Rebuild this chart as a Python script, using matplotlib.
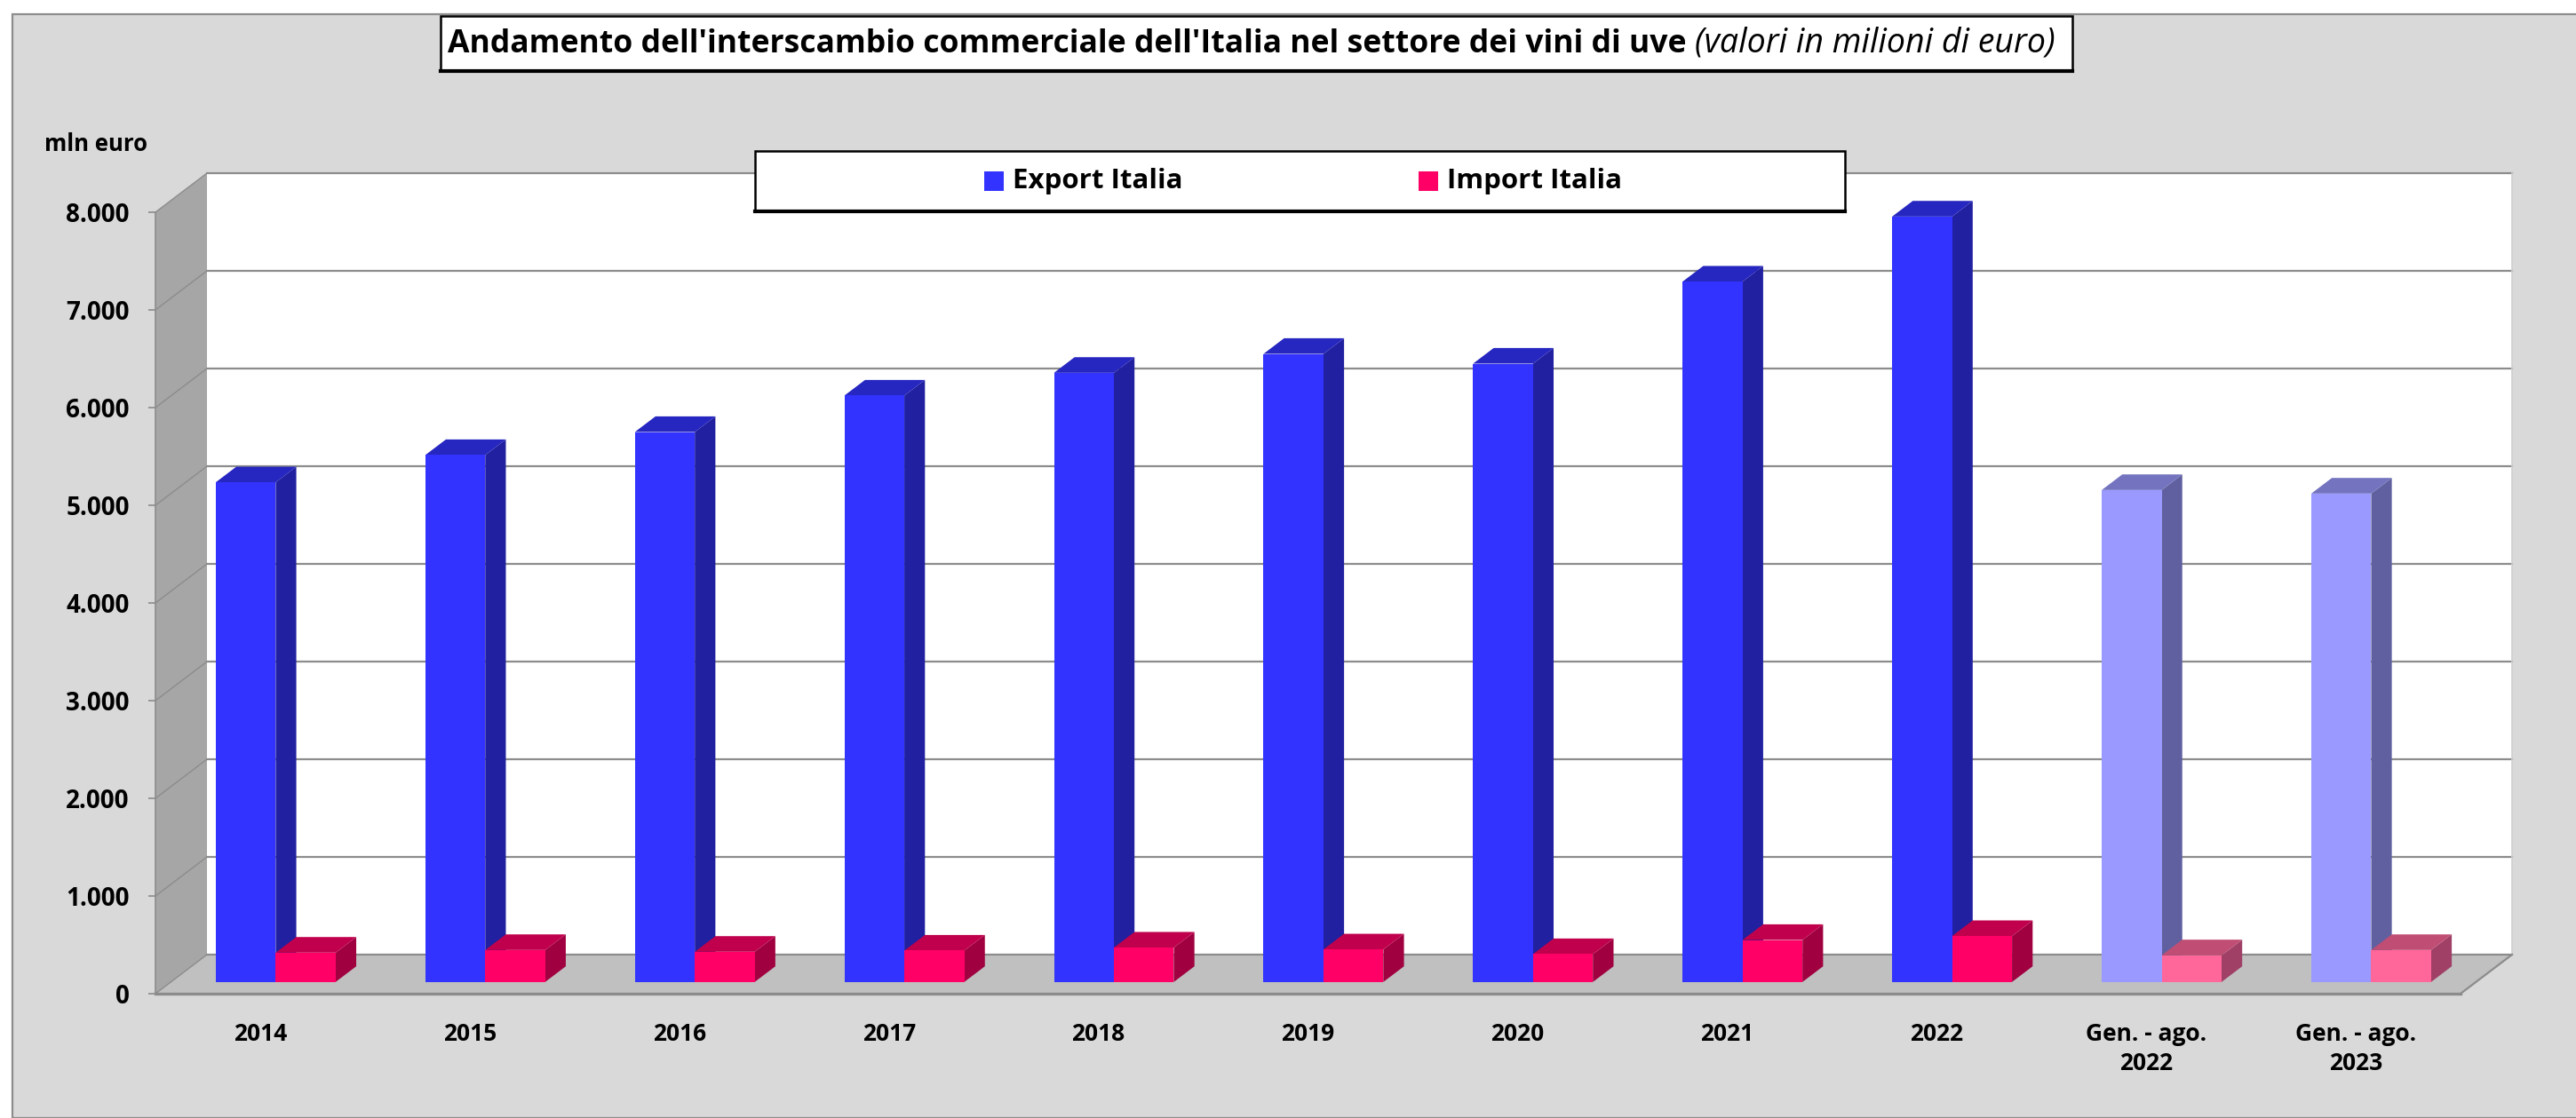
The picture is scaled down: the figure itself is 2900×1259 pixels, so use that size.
import numpy as np
import matplotlib
matplotlib.use("Agg")
import matplotlib.pyplot as plt
from matplotlib.patches import Polygon, Rectangle
from matplotlib.lines import Line2D
from matplotlib.text import Annotation

# --- data (milioni di euro) ---
categories = ["2014", "2015", "2016", "2017", "2018", "2019", "2020", "2021", "2022",
              "Gen. - ago.\n2022", "Gen. - ago.\n2023"]
export_italia = [5115, 5394, 5630, 6003, 6236, 6430, 6330, 7170, 7836, 5036, 5000]
import_italia = [300, 327, 309, 321, 352, 333, 285, 430, 470, 273, 327]
partial = [False] * 9 + [True, True]  # periodi gen-ago shown in lighter tones
yticks = list(range(0, 8001, 1000))

title_bold = "Andamento dell'interscambio commerciale dell'Italia nel settore dei vini di uve "
title_italic = "(valori in milioni di euro)"

plt.rcParams["font.family"] = ["Open Sans", "DejaVu Sans"]

W, H = 2900, 1259
fig = plt.figure(figsize=(W / 100, H / 100), dpi=100)
fig.patch.set_facecolor("white")


def fx(px):
    return px / W


def fy(py):
    return 1 - py / H


# grey chart area
fig.add_artist(Rectangle((fx(14), 0), 1.2, fy(16), transform=fig.transFigure,
                         facecolor="#d9d9d9", edgecolor="#8c8c8c", lw=1.6, zorder=0))

# front plane of the 3d box: x 175..2770 px, y 1119..239 px
ax = fig.add_axes([fx(175), fy(1119), (2770 - 175) / W, (1119 - 239) / H])
ax.patch.set_visible(False)
n = len(categories)
ymax = 8000
ax.set_xlim(0, n)
ax.set_ylim(0, ymax)

DX = 58 / ((2770 - 175) / n)   # depth shift in category units
DY = 400                       # depth shift in value units
D0, BD = 0.3, 0.4              # bar front depth and bar thickness
grid_c = "#8c8c8c"

# walls and floor
ax.add_patch(Polygon([(DX, DY), (n + DX, DY), (n + DX, ymax + DY), (DX, ymax + DY)],
                     closed=True, facecolor="white", edgecolor="none", zorder=0.5, clip_on=False))
ax.add_patch(Polygon([(0, 0), (DX, DY), (DX, ymax + DY), (0, ymax)],
                     closed=True, facecolor="#a6a6a6", edgecolor="none", zorder=0.6, clip_on=False))
ax.add_patch(Polygon([(0, 0), (n, 0), (n + DX, DY), (DX, DY)],
                     closed=True, facecolor="#c0c0c0", edgecolor="none", zorder=0.7, clip_on=False))

for t in yticks:
    ax.add_line(Line2D([DX, n + DX], [t + DY, t + DY], color=grid_c, lw=1.6, zorder=1, clip_on=False))
    ax.add_line(Line2D([0, DX], [t, t + DY], color=grid_c, lw=1.0, zorder=1, clip_on=False))
ax.add_line(Line2D([n + DX, n + DX], [DY, ymax + DY], color="#d0d0d0", lw=1.2, zorder=1, clip_on=False))
ax.add_line(Line2D([0, n], [0, 0], color=grid_c, lw=2.4, zorder=1.5, clip_on=False))
ax.add_line(Line2D([n, n + DX], [0, DY], color=grid_c, lw=1.6, zorder=1.5, clip_on=False))
ax.add_line(Line2D([0, 0], [0, ymax], color=grid_c, lw=1.2, zorder=1.5, clip_on=False))

# bar colours: front, side, top
exp_full = ("#3333ff", "#2020a0", "#2626c0")
exp_light = ("#9999ff", "#6060a0", "#7373c0")
imp_full = ("#ff0066", "#a0003f", "#c0004c")
imp_light = ("#ff6699", "#a04066", "#c04d73")

bw = 0.286


def bar3d(x0, val, cols, z):
    xs = x0 + D0 * DX
    base = D0 * DY
    top = base + val
    bdx, bdy = BD * DX, BD * DY
    ax.bar(xs, val, width=bw, bottom=base, align="edge", color=cols[0], zorder=z + 0.2, clip_on=False)
    ax.add_patch(Polygon([(xs + bw, base), (xs + bw, top), (xs + bw + bdx, top + bdy), (xs + bw + bdx, base + bdy)],
                         closed=True, facecolor=cols[1], edgecolor="none", zorder=z, clip_on=False))
    ax.add_patch(Polygon([(xs, top), (xs + bw, top), (xs + bw + bdx, top + bdy), (xs + bdx, top + bdy)],
                         closed=True, facecolor=cols[2], edgecolor="none", zorder=z + 0.1, clip_on=False))


for i in range(n):
    ec = exp_light if partial[i] else exp_full
    ic = imp_light if partial[i] else imp_full
    bar3d(i + 0.5 - bw, export_italia[i], ec, 2 + i)
    bar3d(i + 0.5, import_italia[i], ic, 2.5 + i)

# axes ticks
for s in ax.spines.values():
    s.set_visible(False)
ax.set_yticks(yticks)
ax.set_yticklabels([f"{t:,}".replace(",", ".") for t in yticks], fontsize=20, fontweight="bold")
ax.tick_params(axis="y", length=6, width=1.2, color=grid_c, pad=15)
ax.set_xticks(np.arange(n) + 0.5)
ax.set_xticklabels(categories, fontsize=19, fontweight="bold", linespacing=1.3)
ax.tick_params(axis="x", length=0, pad=23)

fig.text(fx(50), fy(163), "mln euro", fontsize=18.5, fontweight="bold", va="center", ha="left")

# title box
fig.add_artist(Rectangle((fx(496), fy(80)), (2333 - 496) / W, (80 - 18) / H, transform=fig.transFigure,
                         facecolor="white", edgecolor="black", lw=1.8, zorder=5))
fig.add_artist(Line2D([fx(496), fx(2333)], [fy(80), fy(80)], transform=fig.transFigure,
                      color="black", lw=3, zorder=5.1))
t1 = fig.text(fx(504), fy(50), title_bold, fontsize=25.6, fontweight="bold", va="center", ha="left", zorder=6)
fig.add_artist(Annotation(title_italic, xy=(1, 0), xycoords=t1, va="bottom", ha="left", fontsize=27,
                          fontstyle="italic", annotation_clip=False, zorder=6))

# legend box
fig.add_artist(Rectangle((fx(850), fy(238)), (2077 - 850) / W, (238 - 170) / H, transform=fig.transFigure,
                         facecolor="white", edgecolor="black", lw=1.8, zorder=20))
fig.add_artist(Line2D([fx(850), fx(2077)], [fy(238), fy(238)], transform=fig.transFigure,
                      color="black", lw=3, zorder=20.1))
for lx, lab, col in [(1108, "Export Italia", exp_full[0]), (1597, "Import Italia", imp_full[0])]:
    fig.add_artist(Rectangle((fx(lx), fy(215)), 22 / W, 22 / H, transform=fig.transFigure,
                             facecolor=col, edgecolor="none", zorder=21))
    fig.text(fx(lx + 32), fy(204), lab, fontsize=22.5, fontweight="bold", va="center", ha="left", zorder=21)

fig.savefig("out.png", dpi=100)
